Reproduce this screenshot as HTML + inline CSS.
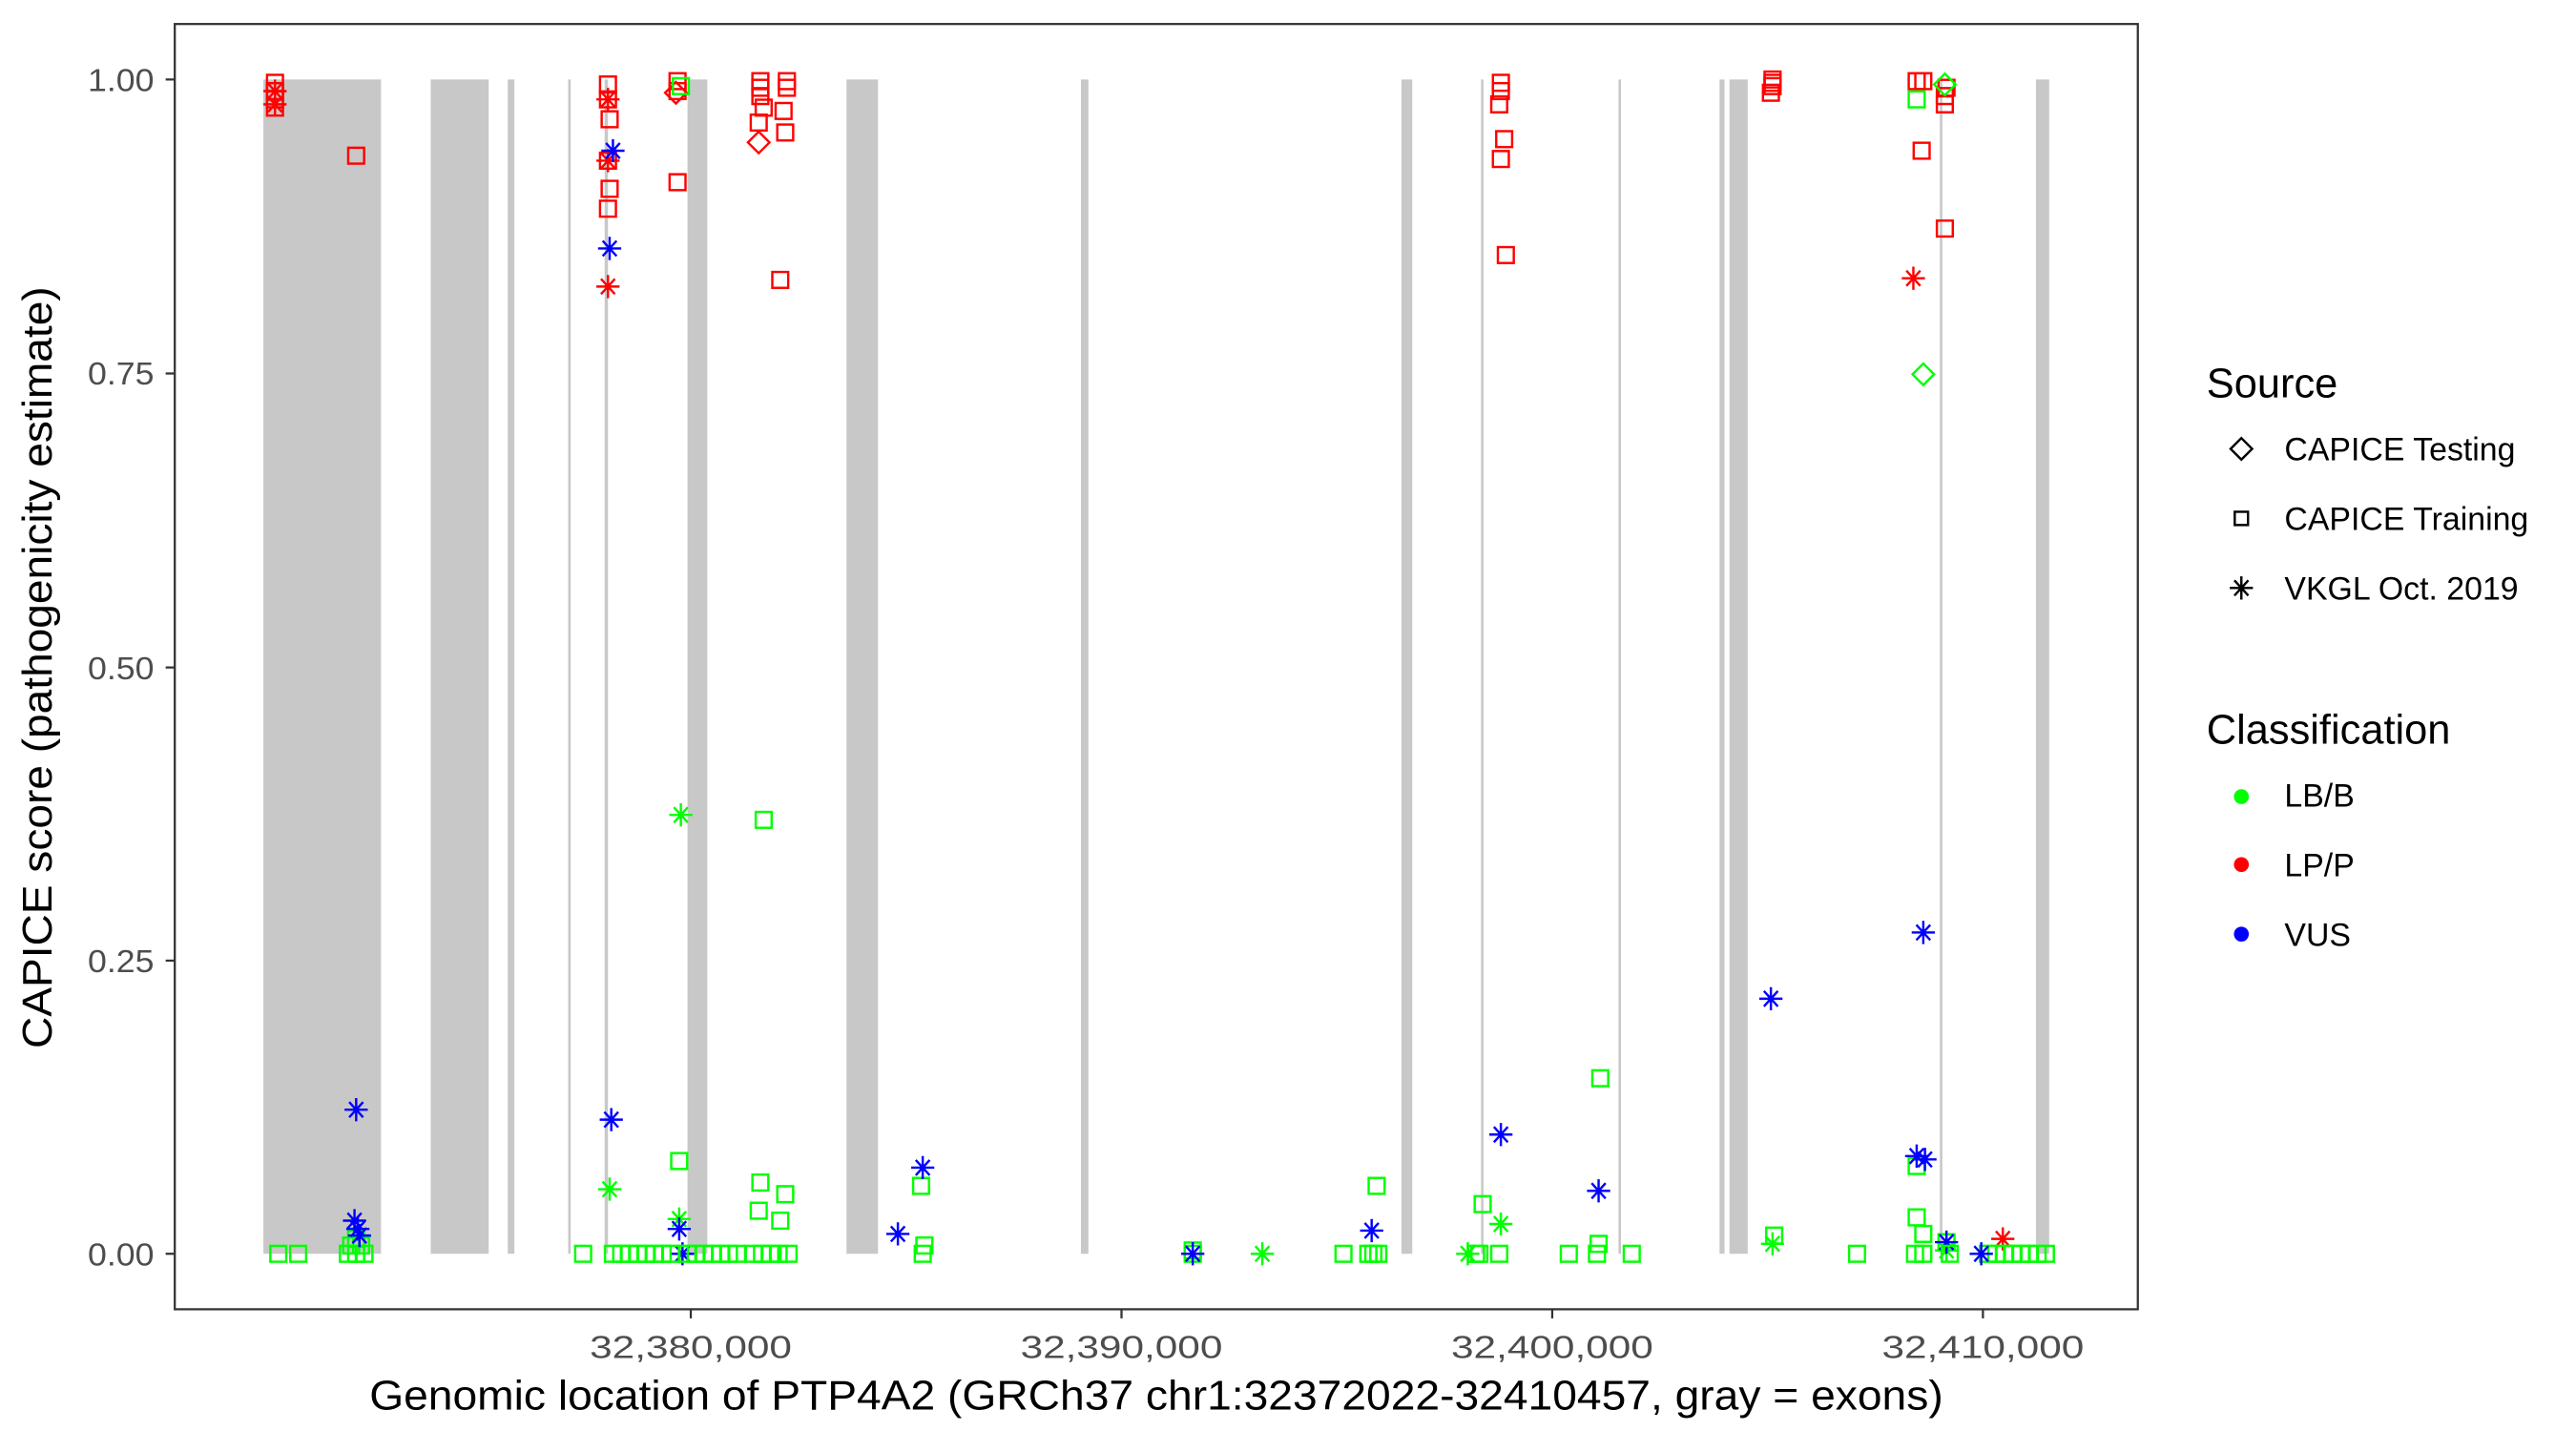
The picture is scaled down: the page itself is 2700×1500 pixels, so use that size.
<!DOCTYPE html>
<html><head><meta charset="utf-8">
<style>html,body{margin:0;padding:0;background:#fff;}svg{display:block;}</style>
</head><body>
<svg id="c" width="2700" height="1500" viewBox="0 0 1555 864" preserveAspectRatio="none" xmlns="http://www.w3.org/2000/svg" font-family="Liberation Sans, sans-serif">
<rect x="0" y="0" width="1555" height="864" fill="#fff"/>
<g id="exons" fill="#c8c8c8"></g>
<g id="pts" fill="none" stroke-width="1.4"></g>
<rect x="105.5" y="14.5" width="1185" height="776" fill="none" stroke="#333" stroke-width="1.3"/>
<g stroke="#333" stroke-width="1.3">
<line x1="100" y1="48" x2="105" y2="48"/><line x1="100" y1="225.5" x2="105" y2="225.5"/><line x1="100" y1="403" x2="105" y2="403"/><line x1="100" y1="580" x2="105" y2="580"/><line x1="100" y1="757" x2="105" y2="757"/>
<line x1="417" y1="790" x2="417" y2="796"/><line x1="677" y1="790" x2="677" y2="796"/><line x1="937" y1="790" x2="937" y2="796"/><line x1="1197" y1="790" x2="1197" y2="796"/>
</g>
<g fill="#4d4d4d" font-size="19" text-anchor="end">
<text x="93" y="55" textLength="40" lengthAdjust="spacingAndGlyphs">1.00</text><text x="93" y="232" textLength="40" lengthAdjust="spacingAndGlyphs">0.75</text><text x="93" y="410" textLength="40" lengthAdjust="spacingAndGlyphs">0.50</text><text x="93" y="587" textLength="40" lengthAdjust="spacingAndGlyphs">0.25</text><text x="93" y="764" textLength="40" lengthAdjust="spacingAndGlyphs">0.00</text>
</g>
<g fill="#4d4d4d" font-size="19">
<text x="356" y="820" textLength="122" lengthAdjust="spacingAndGlyphs">32,380,000</text><text x="616" y="820" textLength="122" lengthAdjust="spacingAndGlyphs">32,390,000</text><text x="876" y="820" textLength="122" lengthAdjust="spacingAndGlyphs">32,400,000</text><text x="1136" y="820" textLength="122" lengthAdjust="spacingAndGlyphs">32,410,000</text>
</g>
<text x="223" y="851" font-size="25" textLength="950" lengthAdjust="spacingAndGlyphs" fill="#000">Genomic location of PTP4A2 (GRCh37 chr1:32372022-32410457, gray = exons)</text>
<text transform="translate(31,403) rotate(-90)" font-size="25" text-anchor="middle" textLength="460" lengthAdjust="spacingAndGlyphs" fill="#000">CAPICE score (pathogenicity estimate)</text>
<g font-size="25" fill="#000"><text x="1332" y="240">Source</text><text x="1332" y="449">Classification</text></g>
<g font-size="19.5" fill="#000">
<text x="1379" y="278">CAPICE Testing</text><text x="1379" y="320">CAPICE Training</text><text x="1379" y="362">VKGL Oct. 2019</text>
<text x="1379" y="487">LB/B</text><text x="1379" y="529">LP/P</text><text x="1379" y="571">VUS</text>
</g>
<g id="leg" fill="none" stroke="#000" stroke-width="1.4"></g>
<circle cx="1353" cy="481" r="4.5" fill="#00ff00"/>
<circle cx="1353" cy="522" r="4.5" fill="#ff0000"/>
<circle cx="1353" cy="564" r="4.5" fill="#0000ff"/>
</svg>
<script>
var NS="http://www.w3.org/2000/svg";
function el(p,t,a){var e=document.createElementNS(NS,t);for(var k in a)e.setAttribute(k,a[k]);p.appendChild(e);return e;}
var ex=document.getElementById('exons');
[[159,230],[260,295],[306.5,310.5],[343,344.5],[365,367],[415,427],[511,530],[652.5,657],[846,852.5],[894,895.5],[977,978.5],[1038,1041],[1044,1055],[1171,1172.5],[1229,1237]].forEach(function(r){el(ex,'rect',{x:r[0],y:48,width:r[1]-r[0],height:709});});
function mark(p,x,y,s,c){
 if(s=='s'){el(p,'rect',{x:x-4.8,y:y-4.8,width:9.6,height:9.6,stroke:c});}
 else if(s=='d'){el(p,'path',{d:'M'+x+' '+(y-6.5)+'L'+(x+6.5)+' '+y+'L'+x+' '+(y+6.5)+'L'+(x-6.5)+' '+y+'Z',stroke:c});}
 else {var r=7,d='M'+x+' '+(y-r)+'V'+(y+r)+'M'+(x-r)+' '+y+'H'+(x+r);var q=r*0.6;d+='M'+(x-q)+' '+(y-q*1.1)+'L'+(x+q)+' '+(y+q*1.1)+'M'+(x-q)+' '+(y+q*1.1)+'L'+(x+q)+' '+(y-q*1.1);el(p,'path',{d:d,stroke:c});}
}
var C={g:'#00ff00',r:'#ff0000',b:'#0000ff'};
var P=[
[166,50,'s','r'],[166,55,'s','r'],[166,60,'s','r'],[166,65,'s','r'],[166,55,'a','r'],[166,63,'a','r'],
[215,94,'s','r'],
[367,51,'s','r'],[367,60,'s','r'],[368,72,'s','r'],[367,97,'s','r'],[368,114,'s','r'],[367,126,'s','r'],[367,60,'a','r'],[367,97,'a','r'],[367,173,'a','r'],[370,91,'a','b'],[368,150,'a','b'],
[409,49,'s','r'],[409,55,'s','r'],[408,56,'d','r'],[411,52,'s','g'],[409,110,'s','r'],
[459,49,'s','r'],[459,53,'s','r'],[459,58,'s','r'],[461,65,'s','r'],[458,74,'s','r'],[475,49,'s','r'],[475,53,'s','r'],[473,67,'s','r'],[474,80,'s','r'],[471,169,'s','r'],[458,86,'d','r'],
[906,50,'s','r'],[906,55,'s','r'],[905,63,'s','r'],[908,84,'s','r'],[906,96,'s','r'],[909,154,'s','r'],
[1070,48,'s','r'],[1070,50,'s','r'],[1070,52,'s','r'],[1069,56,'s','r'],
[1157,49,'s','r'],[1161,49,'s','r'],[1175,53,'s','r'],[1174,58,'s','r'],[1174,63,'s','r'],[1174,138,'s','r'],[1160,91,'s','r'],[1155,168,'a','r'],[1157,60,'s','g'],[1174,51,'d','g'],[1161,226,'d','g'],
[215,748,'s','g'],[212,752,'s','g'],[218,752,'s','g'],[210,757,'s','g'],[215,757,'s','g'],[220,757,'s','g'],
[215,670,'a','b'],[214,737,'a','b'],[216,742,'a','b'],[217,746,'a','b'],
[368,718,'a','g'],[369,676,'a','b'],
[411,492,'a','g'],[410,736,'a','g'],[410,701,'s','g'],[410,742,'a','b'],[412,757,'a','b'],
[461,495,'s','g'],[459,714,'s','g'],[458,731,'s','g'],[471,737,'s','g'],[474,721,'s','g'],
[556,716,'s','g'],[557,705,'a','b'],[542,745,'a','b'],[558,752,'s','g'],
[720,755,'s','g'],[762,757,'a','g'],[831,716,'s','g'],[828,743,'a','b'],
[895,727,'s','g'],[906,739,'a','g'],[906,685,'a','b'],[966,651,'s','g'],[965,719,'a','b'],[965,751,'s','g'],
[1069,603,'a','b'],[1071,746,'s','g'],[1070,751,'a','g'],
[1157,704,'s','g'],[1157,735,'s','g'],[1161,745,'s','g'],[1157,698,'a','b'],[1162,700,'a','b'],[1161,563,'a','b'],
[1175,750,'s','g'],[1175,755,'a','g'],[1175,750,'a','b'],[1209,748,'a','r'],
[886,757,'a','g'],[891,757,'s','g']
];
var bx=[168,180,352,370,375,380,385,390,395,400,405,415,420,425,430,435,440,445,455,460,465,470,476,557,720,811,826,829,832,893,905,947,964,985,1121,1156,1161,1177,1200,1205,1210,1215,1220,1225,1230,1235];
bx.forEach(function(x){P.push([x,757,'s','g']);});
P.push([720,757,'a','b'],[1196,757,'a','b']);
var g=document.getElementById('pts');
P.forEach(function(p){mark(g,p[0],p[1],p[2],C[p[3]]);});
var L=document.getElementById('leg');
mark(L,1353,271,'d','#000');
el(L,'rect',{x:1349,y:309,width:8,height:8,stroke:'#000'});
mark(L,1353,355,'a','#000');
</script>
</body></html>
